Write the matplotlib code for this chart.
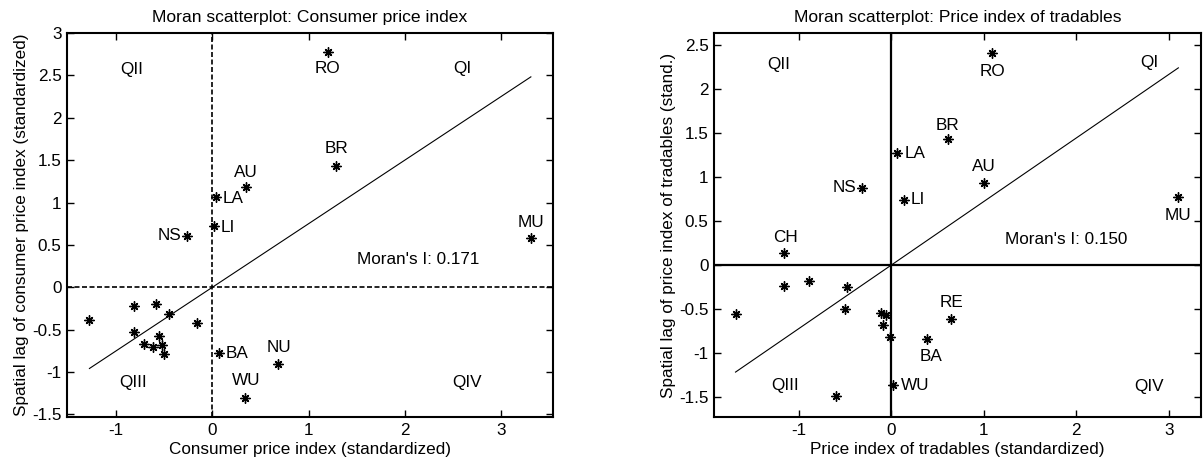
import matplotlib
matplotlib.use("Agg")
import matplotlib.pyplot as plt
import numpy as np

plt.rcParams['font.family'] = ['Liberation Sans', 'DejaVu Sans']

# ---- Left panel: Consumer price index ----
cpi_x = [1.20, 1.29, 0.35, 0.04, 0.02, -0.26, 3.31, 0.066, 0.68, 0.34,
         -1.277, -0.81, -0.59, -0.446, -0.156, -0.81, -0.553, -0.706, -0.613, -0.52, -0.498]
cpi_y = [2.78, 1.43, 1.18, 1.07, 0.72, 0.61, 0.58, -0.78, -0.91, -1.30,
         -0.383, -0.217, -0.20, -0.316, -0.418, -0.533, -0.58, -0.67, -0.71, -0.683, -0.79]
cpi_labels = ['RO', 'BR', 'AU', 'LA', 'LI', 'NS', 'MU', 'BA', 'NU', 'WU',
              '', '', '', '', '', '', '', '', '', '', '']
cpi_slope = 0.75
cpi_moran = 0.171

# ---- Right panel: Price index of tradables ----
trd_x = [1.09, 0.607, 0.065, 1.0, -0.314, 0.133, 3.105, -1.167, 0.018, 0.646, 0.382,
         -1.167, -0.888, -0.477, -1.687, -0.498, -0.108, -0.062, -0.09, -0.018, -0.596]
trd_y = [2.41, 1.43, 1.27, 0.934, 0.88, 0.74, 0.77, 0.133, -1.37, -0.611, -0.846,
         -0.239, -0.178, -0.254, -0.558, -0.505, -0.543, -0.573, -0.687, -0.82, -1.49]
trd_labels = ['RO', 'BR', 'LA', 'AU', 'NS', 'LI', 'MU', 'CH', 'WU', 'RE', 'BA',
              '', '', '', '', '', '', '', '', '', '']
trd_slope = 0.7225
trd_moran = 0.150

# label placement: (dx, dy, ha, va)
cpi_place = {'RO': (0, -0.20, 'center', 'center'), 'BR': (0, 0.21, 'center', 'center'),
             'AU': (0, 0.18, 'center', 'center'), 'LA': (0.07, -0.02, 'left', 'center'),
             'LI': (0.07, -0.01, 'left', 'center'), 'NS': (-0.06, 0.0, 'right', 'center'),
             'MU': (0, 0.19, 'center', 'center'), 'BA': (0.07, 0.0, 'left', 'center'),
             'NU': (0.01, 0.2, 'center', 'center'), 'WU': (0.01, 0.2, 'center', 'center')}
trd_place = {'RO': (0, -0.21, 'center', 'center'), 'BR': (0, 0.16, 'center', 'center'),
             'LA': (0.08, 0.0, 'left', 'center'), 'AU': (0, 0.19, 'center', 'center'),
             'NS': (-0.06, 0.0, 'right', 'center'), 'LI': (0.08, 0.0, 'left', 'center'),
             'MU': (0, -0.21, 'center', 'center'), 'CH': (0.02, 0.18, 'center', 'center'),
             'WU': (0.09, 0.0, 'left', 'center'), 'RE': (0, 0.18, 'center', 'center'),
             'BA': (0.05, -0.2, 'center', 'center')}

fig = plt.figure(figsize=(12.03, 4.66), dpi=100)
W, H = 1203, 466
ax1 = fig.add_axes([67 / W, 1 - 417 / H, (553 - 67) / W, (417 - 33) / H])
ax2 = fig.add_axes([714 / W, 1 - 417 / H, (1201 - 714) / W, (417 - 33) / H])

FS = 12.3
TFS = 12.6


def panel(ax, xs, ys, labels, place, slope, moran, xlim, ylim, xticks, yticks,
          title, xlabel, ylabel, quad, moran_pos, dashed):
    ax.set_xlim(*xlim)
    ax.set_ylim(*ylim)
    if dashed:
        ax.axhline(0, color='black', lw=1.2, ls=(0, (3, 1.5)), zorder=1)
        ax.axvline(0, color='black', lw=1.2, ls=(0, (3, 1.5)), zorder=1)
    else:
        ax.axhline(0, color='black', lw=1.6, zorder=1)
        ax.axvline(0, color='black', lw=1.6, zorder=1)
    xs = np.array(xs)
    ys = np.array(ys)
    lx = np.array([xs.min(), xs.max()])
    ax.plot(lx, slope * lx, color='black', lw=0.8, zorder=2)
    ax.plot(xs, ys, ls='none', marker=(4, 2, 0), ms=7.5, mec='black', mew=1.0, zorder=3)
    ax.plot(xs, ys, ls='none', marker=(4, 2, 45), ms=6.5, mec='black', mew=1.0, zorder=3)
    for x, y, lab in zip(xs, ys, labels):
        if lab:
            dx, dy, ha, va = place[lab]
            ax.text(x + dx, y + dy, lab, ha=ha, va=va, fontsize=FS)
    for (qx, qy, qt) in quad:
        ax.text(qx, qy, qt, ha='center', va='center', fontsize=FS)
    ax.text(moran_pos[0], moran_pos[1], "Moran's I: %.3f" % moran,
            ha='center', va='center', fontsize=FS)
    ax.set_xticks(xticks)
    ax.set_yticks(yticks)
    ax.set_xticklabels([('%g' % t) for t in xticks])
    ax.set_yticklabels([('%g' % t) for t in yticks])
    ax.tick_params(direction='in', top=True, right=True, length=5, width=1,
                   labelsize=FS, pad=4)
    for s in ax.spines.values():
        s.set_linewidth(1.5)
    ax.set_title(title, fontsize=TFS, pad=8)
    ax.set_xlabel(xlabel, fontsize=FS, labelpad=3)
    ax.set_ylabel(ylabel, fontsize=FS, labelpad=2)


panel(ax1, cpi_x, cpi_y, cpi_labels, cpi_place, cpi_slope, cpi_moran,
      (-1.51, 3.54), (-1.53, 3.0), [-1, 0, 1, 2, 3],
      [-1.5, -1, -0.5, 0, 0.5, 1, 1.5, 2, 2.5, 3],
      'Moran scatterplot: Consumer price index',
      'Consumer price index (standardized)',
      'Spatial lag of consumer price index (standardized)',
      [(-0.84, 2.57, 'QII'), (2.6, 2.58, 'QI'), (-0.82, -1.125, 'QIII'), (2.65, -1.125, 'QIV')],
      (2.14, 0.33), True)

panel(ax2, trd_x, trd_y, trd_labels, trd_place, trd_slope, trd_moran,
      (-1.92, 3.35), (-1.73, 2.64), [-1, 0, 1, 2, 3],
      [-1.5, -1, -0.5, 0, 0.5, 1, 1.5, 2, 2.5],
      'Moran scatterplot: Price index of tradables',
      'Price index of tradables (standardized)',
      'Spatial lag of price index of tradables (stand.)',
      [(-1.22, 2.28, 'QII'), (2.79, 2.30, 'QI'), (-1.156, -1.37, 'QIII'), (2.79, -1.386, 'QIV')],
      (1.895, 0.29), False)

fig.savefig('out.png', dpi=100)
